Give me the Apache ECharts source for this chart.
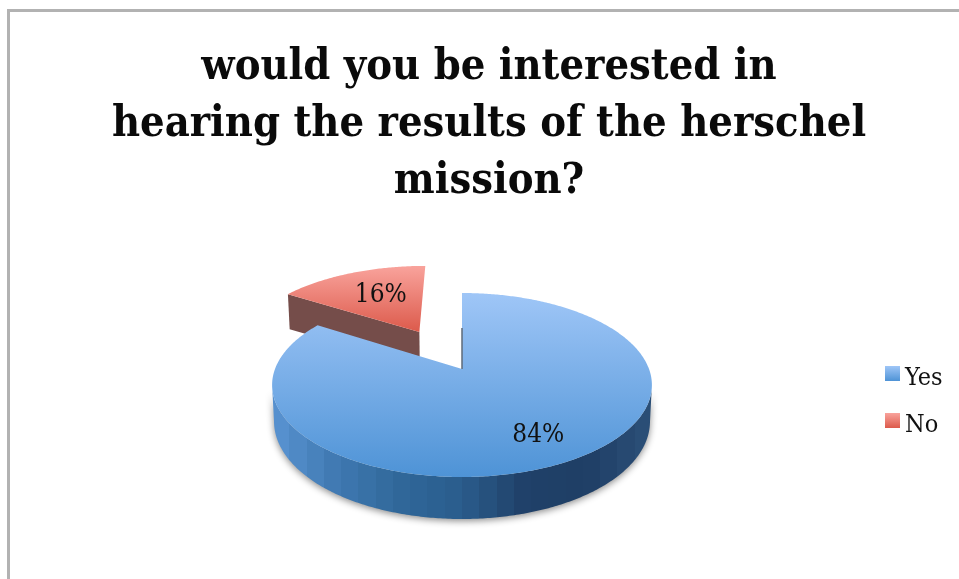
<!DOCTYPE html>
<html>
<head>
<meta charset="utf-8">
<style>html,body{margin:0;padding:0;background:#fff}#c{width:959px;height:579px}</style>
<script src="https://cdn.jsdelivr.net/npm/echarts@6/dist/echarts.min.js"></script>
</head>
<body>
<div id="c"></div>
<script>
const titleLines = ['would you be interested in', 'hearing the results of the herschel', 'mission?'];
const categories = ['Yes', 'No'];
const shares = [84, 16];
const exploded = [0, 0.51];

const SERIF = '"DejaVu Serif Condensed","DejaVu Serif",serif';
const total = shares.reduce((a, b) => a + b, 0);

// Perspective disc: unit-circle points are projected onto the screen.
const view = { cx: 462, cy: 369, rx: 187, ry: 89.2, k: 0.174, depth: 35 };

function project(X, Z, lowered) {
  const s = 1 / (1 - view.k * Z);
  const drop = lowered ? view.depth * (1 + 0.2 * Math.max(Z, 0)) : 0;
  const xs = lowered ? 0.99 : 1;
  return [view.cx + view.rx * X * s * xs, view.cy + view.ry * Z * s + drop];
}

// Faceted shading for the outer wall: flat vertical bands across the width.
function bandedStops(colors, bands) {
  const stops = [];
  for (let i = 0; i < bands; i++) {
    const c = echarts.color.lerp((i + 0.5) / bands, colors);
    stops.push({ offset: i / bands, color: c }, { offset: (i + 1) / bands, color: c });
  }
  return stops;
}

const faces = [
  {
    top: ['#9fc6f7', '#4e93d6'],
    wall: ['#5a94d2', '#4079b2', '#30689a', '#2a5c8c', '#1f4068', '#1f3f66', '#2c5078'],
    inner: '#5e6a78',
    labelShift: [0, 0]
  },
  {
    top: ['#f9a39c', '#dc5a4b'],
    wall: ['#754d4a', '#754d4a'],
    inner: '#754d4a',
    labelShift: [14, 9]
  }
];

function sliceRenderer(index) {
  return function (params, api) {
    const value = api.value(0);
    const before = shares.slice(0, index).reduce((a, b) => a + b, 0);
    const a0 = before / total * Math.PI * 2;
    const a1 = a0 + value / total * Math.PI * 2;
    const mid = (a0 + a1) / 2;
    const ox = Math.sin(mid) * exploded[index];
    const oz = -Math.cos(mid) * exploded[index];
    const face = faces[index];

    const angles = [];
    const n = Math.ceil((a1 - a0) * 90);
    for (let i = 0; i <= n; i++) angles.push(a0 + (a1 - a0) * i / n);
    const rimAt = (a, lowered) => project(ox + Math.sin(a), oz - Math.cos(a), lowered);

    const apex = project(ox, oz, false);
    const apexLow = project(ox, oz, true);
    const children = [];

    // outer wall: only the stretch of the rim that faces the viewer
    const front = angles.filter(a => -Math.cos(a) > view.k);
    if (front.length > 1) {
      children.push({
        type: 'polygon',
        shape: { points: front.map(a => rimAt(a, false)).concat(front.slice().reverse().map(a => rimAt(a, true))) },
        style: {
          fill: new echarts.graphic.LinearGradient(0, 0, 1, 0, bandedStops(face.wall, 22)),
          shadowColor: 'rgba(0,0,0,0.45)',
          shadowBlur: 7,
          shadowOffsetY: 2
        }
      });
    }
    // cut face along the leading edge of the slice
    children.push({
      type: 'polygon',
      shape: { points: [apex, rimAt(a0, false), rimAt(a0, true), apexLow] },
      style: { fill: face.inner }
    });
    // upper surface
    children.push({
      type: 'polygon',
      shape: { points: [apex].concat(angles.map(a => rimAt(a, false))) },
      style: {
        fill: new echarts.graphic.LinearGradient(0, 0, 0, 1, [
          { offset: 0, color: face.top[0] },
          { offset: 1, color: face.top[1] }
        ])
      }
    });
    // the cut face seen edge-on where it lies on the view axis
    if (Math.abs(Math.sin(a0)) < 1e-6) {
      const low = rimAt(a0, true);
      children.push({
        type: 'line',
        shape: { x1: low[0], y1: low[1], x2: apex[0], y2: apex[1] },
        style: { stroke: face.inner, lineWidth: 1.5 }
      });
    }
    // percentage label
    const at = project(ox + 0.75 * Math.sin(mid), oz - 0.75 * Math.cos(mid), false);
    children.push({
      type: 'text',
      style: {
        text: value + '%',
        x: at[0] + face.labelShift[0],
        y: at[1] + face.labelShift[1],
        align: 'center',
        verticalAlign: 'middle',
        font: '26px ' + SERIF,
        fill: '#111'
      }
    });
    return { type: 'group', children };
  };
}

const chart = echarts.init(document.getElementById('c'), null, { renderer: 'canvas' });
chart.setOption({
  animation: false,
  backgroundColor: '#fff',
  title: {
    text: titleLines.join('\n'),
    left: 489,
    top: 39,
    padding: 0,
    textAlign: 'center',
    textStyle: {
      fontFamily: SERIF,
      fontWeight: 'bold',
      fontSize: 43,
      lineHeight: 57,
      color: '#0a0a0a'
    }
  },
  legend: {
    orient: 'vertical',
    left: 885,
    top: 366,
    padding: 0,
    icon: 'rect',
    itemWidth: 15,
    itemHeight: 15,
    itemGap: 22,
    data: categories,
    formatter: '{a|{name}}',
    textStyle: {
      rich: {
        a: { fontFamily: SERIF, fontSize: 25, color: '#111', padding: [10, 0, 0, 0] }
      }
    }
  },
  graphic: [{
    type: 'rect',
    silent: true,
    shape: { x: 8.5, y: 10.5, width: 1000, height: 1000 },
    style: { fill: 'none', stroke: '#b2b2b2', lineWidth: 3 }
  }],
  series: categories.map((name, i) => ({
    type: 'custom',
    name,
    coordinateSystem: 'none',
    z: categories.length - i + 2,
    silent: true,
    data: [shares[i]],
    itemStyle: {
      color: new echarts.graphic.LinearGradient(0, 0, 0, 1, [
        { offset: 0, color: faces[i].top[0] },
        { offset: 1, color: faces[i].top[1] }
      ])
    },
    renderItem: sliceRenderer(i)
  }))
});
</script>
</body>
</html>
